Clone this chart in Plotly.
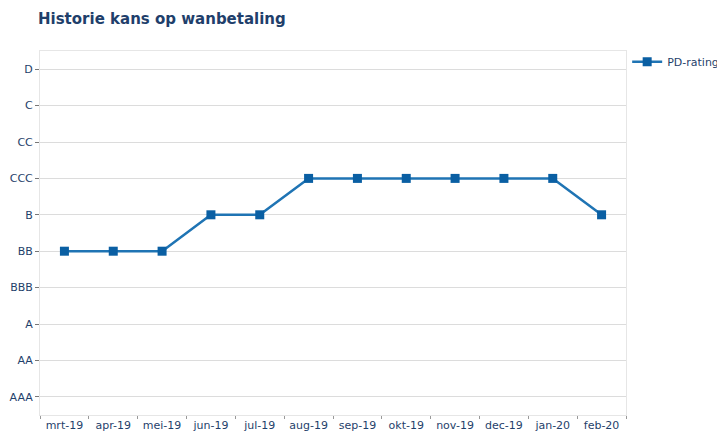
import plotly.graph_objects as go

months = ["mrt-19", "apr-19", "mei-19", "jun-19", "jul-19", "aug-19",
          "sep-19", "okt-19", "nov-19", "dec-19", "jan-20", "feb-20"]
ratings_order = ["AAA", "AA", "A", "BBB", "BB", "B", "CCC", "CC", "C", "D"]
pd_rating = ["BB", "BB", "BB", "B", "B", "CCC", "CCC", "CCC", "CCC", "CCC", "CCC", "B"]

text_color = "#1f3f6b"
W, H = 717, 424  # page body has an 8px margin
fig = go.Figure()
fig.add_trace(go.Scatter(
    x=months, y=pd_rating, mode="lines+markers", name="PD-rating",
    line=dict(color="#1f74b4", width=2.5),
    marker=dict(symbol="square", size=9, color="#0a5fa3"),
))
fig.update_layout(
    width=W, height=H,
    margin=dict(l=32, r=99, t=43, b=17, autoexpand=False),
    paper_bgcolor="white", plot_bgcolor="white",
    font=dict(family="DejaVu Sans", size=11, color=text_color),
    title=dict(text="<b>Historie kans op wanbetaling</b>", x=30 / W, xanchor="left",
               y=1 - 11 / H, yanchor="middle", font=dict(size=15, color=text_color)),
    showlegend=True,
    legend=dict(x=0.002, xref="paper", xanchor="left", y=1.01, yanchor="top",
                font=dict(size=11, color=text_color), itemwidth=30,
                bgcolor="rgba(0,0,0,0)"),
    xaxis=dict(type="category", categoryorder="array", categoryarray=months,
               range=[-0.5, 11.5], showgrid=False, ticks="outside", ticklen=3,
               tickson="boundaries", tickcolor="#999999", automargin=False,
               showline=True, linecolor="#e6e6e6", mirror=True, zeroline=False,
               tickfont=dict(size=11, color=text_color)),
    yaxis=dict(type="category", categoryorder="array", categoryarray=ratings_order,
               range=[-0.5, 9.5], showgrid=True, gridcolor="#dcdcdc", gridwidth=1,
               ticks="outside", ticklen=4, tickcolor="#777777", automargin=False,
               showline=True, linecolor="#e6e6e6", mirror=True, zeroline=False,
               tickfont=dict(size=11, color=text_color)),
)
fig.update_layout(legend_x=1.002)
fig.write_html("out.html")
